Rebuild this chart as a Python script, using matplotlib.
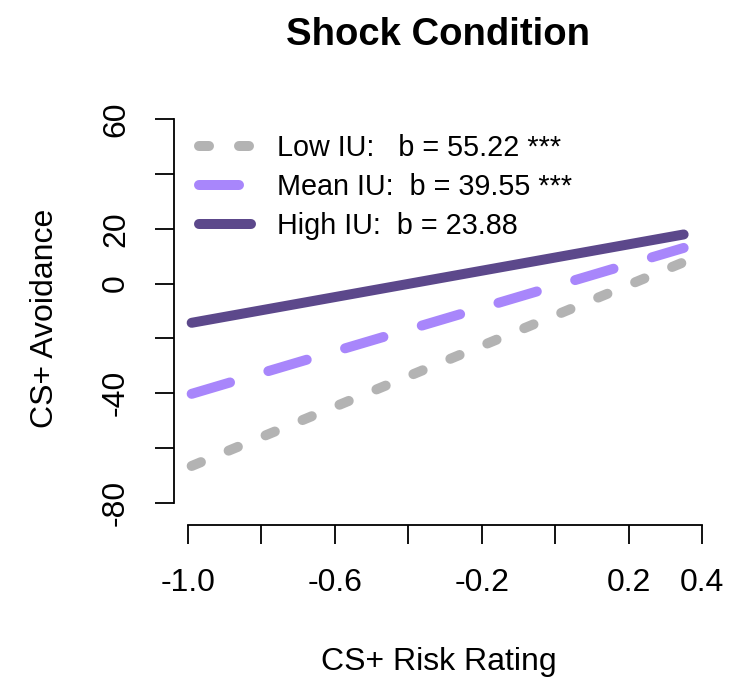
import matplotlib
matplotlib.use("Agg")
import matplotlib.pyplot as plt

plt.rcParams["font.family"] = ["Liberation Sans", "DejaVu Sans"]

# regression lines (endpoints)
x_ends = [-0.99, 0.35]
low_iu = [-66.5, 7.8]
mean_iu = [-40.2, 13.0]
high_iu = [-14.3, 17.9]

labels = ["Low IU:   b = 55.22 ***", "Mean IU:  b = 39.55 ***", "High IU:  b = 23.88"]
colors = ["#B3B3B3", "#A886FB", "#5C488B"]

x_ticks = [-1.0, -0.8, -0.6, -0.4, -0.2, 0.0, 0.2, 0.4]
x_ticklabels = ["-1.0", "", "-0.6", "", "-0.2", "", "0.2", "0.4"]
y_ticks = [-80, -60, -40, -20, 0, 20, 40, 60]
y_ticklabels = ["-80", "", "-40", "", "0", "20", "", "60"]

W, H = 752, 681
fig = plt.figure(figsize=(W / 100, H / 100), dpi=100)

# axes placed in pixels: x=-1 -> 188px, x=0.4 -> 702px ; y=60 -> 119px, y=-80 -> 503px
xs = (702 - 188) / 1.4
ys = (503 - 119) / 140.0
xlim = (-1 - 14 / xs, 0.4 + 10 / xs)
ylim = (-80 - 22 / ys, 60 + 16 / ys)
left_px = 188 - (-1 - xlim[0]) * xs
right_px = 702 + (xlim[1] - 0.4) * xs
bottom_px = 503 + (-80 - ylim[0]) * ys
top_px = 119 - (ylim[1] - 60) * ys
ax = fig.add_axes([left_px / W, 1 - bottom_px / H, (right_px - left_px) / W, (bottom_px - top_px) / H])
ax.set_xlim(xlim)
ax.set_ylim(ylim)

lw = 7.2
ax.plot(x_ends, low_iu, color=colors[0], lw=lw, dash_capstyle="round",
        dashes=(1.0, 3.0), label=labels[0])
ax.plot(x_ends, mean_iu, color=colors[1], lw=lw, dash_capstyle="round",
        dashes=(4.0, 4.0), label=labels[1])
ax.plot(x_ends, high_iu, color=colors[2], lw=lw, solid_capstyle="round",
        label=labels[2])

for s in ["top", "right"]:
    ax.spines[s].set_visible(False)
ax.spines["left"].set_bounds(-80, 60)
ax.spines["bottom"].set_bounds(-1.0, 0.4)
ax.spines["left"].set_linewidth(1.3)
ax.spines["bottom"].set_linewidth(1.3)

ax.set_xticks(x_ticks)
ax.set_xticklabels(x_ticklabels)
ax.set_yticks(y_ticks)
ax.set_yticklabels(y_ticklabels, rotation=90, va="center")
ax.tick_params(axis="both", length=14, width=1.3, labelsize=23, pad=17)

leg = ax.legend(loc="upper left", bbox_to_anchor=(199 / W, 1 - 134 / H),
                bbox_transform=fig.transFigure, frameon=False, fontsize=20.7,
                handlelength=1.8, handletextpad=0.9, labelspacing=0.38,
                borderaxespad=0, borderpad=0)

fig.text(438 / W, 1 - 35 / H, "Shock Condition", ha="center", va="center",
         fontsize=27.5, fontweight="bold")
fig.text(439 / W, 1 - 662 / H, "CS+ Risk Rating", ha="center", va="center", fontsize=23)
fig.text(45 / W, 1 - 318 / H, "CS+ Avoidance", ha="center", va="center",
         rotation=90, fontsize=23)

fig.savefig("out.png", dpi=100)
